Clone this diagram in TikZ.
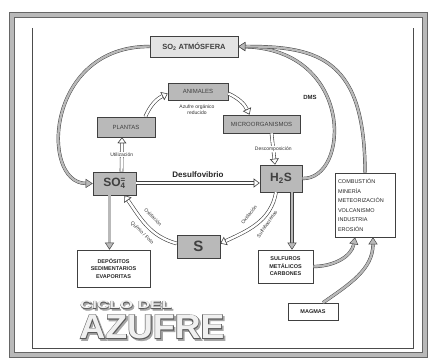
\documentclass[tikz,border=0pt]{standalone}
\usepackage{fontspec}
\setmainfont{Liberation Sans}
\newfontfamily\titlefat{Liberation Sans Bold}[FakeBold=4]
\usetikzlibrary{arrows.meta,shadows,calc}
\newcommand{\outlinetext}[3]{%
  \node[font=\titlefat#2, text=black!35, inner sep=0pt] at ([shift={(1.6pt,-1.6pt)}]#1) {#3};
  \node[font=\titlefat#2, text=black!65, inner sep=0pt] at (#1) {#3};
  \node[font=\bfseries#2, text=gray!12, inner sep=0pt] at (#1) {#3};
}
\begin{document}
\begin{tikzpicture}[x=1pt,y=-1pt,
  box/.style={draw=black!75, line width=0.6pt, inner sep=0pt, align=center,
    drop shadow={opacity=0.35,shadow xshift=1.2pt,shadow yshift=-1.2pt}},
  gbox/.style={box, fill=gray!55, text=black!75},
  wbox/.style={box, fill=white, text=black!85},
  lbl/.style={font=\fontsize{5}{6}\selectfont, text=black!80, inner sep=0.6pt},
  hol/.style={draw=black!75, line width=0.6pt, double=white, double distance=2.4pt,
    -{Triangle[open, length=6pt, width=9pt]}},
  gar/.style={draw=black!75, line width=0.45pt, double=gray!55, double distance=2.4pt,
    -{Triangle[length=7pt, width=9pt, fill=gray!55]}}
]
\useasboundingbox (0,0) rectangle (431,358);
\fill[white] (0,0) rectangle (431,358);
% frame
\draw[line width=5pt, draw=gray!55] (11.5,15) rectangle (425,355);
\draw[line width=0.5pt, draw=black!60] (9,12.5) rectangle (427.5,357.5);
\draw[line width=0.5pt, draw=black!60] (14,17.5) rectangle (422.5,352.5);
\draw[line width=0.6pt, draw=black!70] (32,28) -- (32,348) -- (413,348) -- (413,28);

% nodes
\node[gbox, fill=gray!22, minimum width=88pt, minimum height=21pt,
  font=\bfseries\fontsize{7.5}{8}\selectfont] (atm) at (194,46.5) {SO\textsubscript{2} ATMÓSFERA};
\node[gbox, minimum width=60pt, minimum height=17pt, font=\fontsize{6}{6}\selectfont] (anim) at (198,91.5) {ANIMALES};
\node[gbox, minimum width=58pt, minimum height=20pt, font=\fontsize{6}{6}\selectfont] (plant) at (126,127) {PLANTAS};
\node[gbox, minimum width=77pt, minimum height=18pt, font=\fontsize{6}{6}\selectfont] (micro) at (261.5,124) {MICROORGANISMOS};
\node[gbox, minimum width=43pt, minimum height=23pt, font=\bfseries\fontsize{12}{12}\selectfont] (so4) at (114.5,183.5)
  {SO\rlap{\textsuperscript{=}}\textsubscript{4}};
\node[gbox, minimum width=42pt, minimum height=27pt, font=\bfseries\fontsize{12}{12}\selectfont] (h2s) at (281,178.5) {H\textsubscript{2}S};
\node[gbox, minimum width=43pt, minimum height=23pt, font=\bfseries\fontsize{15}{15}\selectfont] (s) at (198.5,246.5) {S};
\node[wbox, minimum width=73pt, minimum height=37pt, font=\bfseries\fontsize{5.5}{7.5}\selectfont] (dep) at (113.5,268.5)
  {DEPÓSITOS\\SEDIMENTARIOS\\EVAPORITAS};
\node[wbox, minimum width=55pt, minimum height=33pt, font=\bfseries\fontsize{5.5}{7.5}\selectfont] (sulf) at (285.5,266.5)
  {SULFUROS\\METÁLICOS\\CARBONES};
\node[wbox, minimum height=64pt, text width=54pt, inner xsep=3pt, align=left,
  font=\fontsize{5.5}{9.5}\selectfont] (comb) at (365,205)
  {COMBUSTIÓN\\MINERÍA\\METEORIZACIÓN\\VOLCANISMO\\INDUSTRIA\\EROSIÓN};
\node[wbox, minimum width=50pt, minimum height=17pt, font=\bfseries\fontsize{5.5}{6}\selectfont] (mag) at (313,311.5) {MAGMAS};

% labels
\node[lbl, align=center] (azr) at (197,110) {Azufre orgánico\\reducido};
\node[font=\bfseries\fontsize{8}{8}\selectfont, text=black!85] (desu) at (198,175) {Desulfovibrio};
\node[font=\bfseries\fontsize{6}{6}\selectfont, text=black!85] (dms) at (310,97) {DMS};

% biological cycle arrows
\draw[hol] ([xshift=7pt]so4.north) -- node[lbl, fill=white] (util) {Utilización} ([xshift=-4pt]plant.south);
\draw[hol] ([xshift=-10pt]plant.north east) to[bend left=20] ([yshift=-2pt]anim.west);
\draw[hol] ([yshift=-2pt]anim.east) to[bend left=20] ([xshift=-12pt]micro.north);
\draw[hol] ([xshift=10pt]micro.south) -- node[lbl, fill=white] (desc) {Descomposición} ([xshift=-6pt]h2s.north);
\draw[hol] ([yshift=0.5pt]so4.east) -- ([yshift=0.5pt]so4.east -| h2s.west);
\draw[hol] ([yshift=3pt]s.west) to[out=165, in=-55] ([xshift=10pt]so4.south);
\draw[hol] ([xshift=-5pt]h2s.south) to[out=-100, in=25] ([yshift=3pt]s.east);
\node[lbl, rotate=-45] (ox1) at (153,217) {Oxidación};
\node[lbl, rotate=-45] (qf) at (142,233) {Químio / Foto};
\node[lbl, rotate=52] (ox2) at (249,215) {Oxidación};
\node[lbl, rotate=55] (sb) at (267,224) {Sulfobacterias};

% gray arrows
\draw[gar] ([xshift=-5pt]so4.south) -- ([xshift=-5pt]so4.south |- dep.north);
\draw[gar] ([xshift=11pt]h2s.south) -- ([xshift=11pt]h2s.south |- sulf.north);
\draw[gar] (atm.west) .. controls (45,46) and (40,183) .. (so4.west);
\draw[gar] (h2s.east) .. controls (350,180) and (355,50) .. (atm.east);
\draw[gar] (comb.north) .. controls (365,60) and (320,46) .. (atm.east);
\draw[gar] (sulf.east) to[out=0, in=-100] ([xshift=-10pt]comb.south);
\draw[gar] ([xshift=10pt]mag.north) to[out=35, in=-90] ([xshift=8pt]comb.south);

% title
\coordinate (t1) at (126,305);
\coordinate (t2) at (152,327);
\outlinetext{t1}{\fontsize{11}{11}\selectfont}{\scalebox{1.55}[1]{CICLO DEL}}
\outlinetext{t2}{\fontsize{34}{34}\selectfont}{\scalebox{1.05}[1]{AZUFRE}}
\end{tikzpicture}
\end{document}
